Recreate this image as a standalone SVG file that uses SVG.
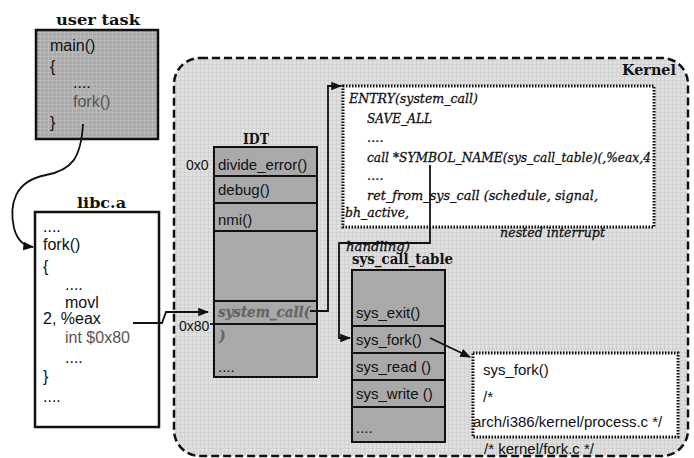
<svg xmlns="http://www.w3.org/2000/svg" width="694" height="458" viewBox="0 0 694 458">
  <style>
    .title { font-family: "DejaVu Serif", "Liberation Serif", serif; font-weight: bold; font-size: 15px; fill: #111; }
    .code { font-family: "Liberation Sans", Arial, sans-serif; font-size: 15px; fill: #111; }
    .big { font-size: 16px; }
    .addr { font-size: 14px; }
    .gray { fill: #555; }
    .ital { font-family: "DejaVu Serif", "Liberation Serif", serif; font-style: italic; font-size: 13px; fill: #111; stroke: #111; stroke-width: 0.3; }
    .sc { fill: #666; stroke: #666; font-weight: bold; font-size: 14px; }
    .box { stroke: #111; stroke-width: 2.5; }
    .cell { fill: #a9a9a9; stroke: #111; stroke-width: 2; }
    .dotted { fill: #fff; stroke: #111; stroke-width: 3; stroke-dasharray: 1.5 1.5; }
    .wire { fill: none; stroke: #111; stroke-width: 1.8; }
  </style>
  <defs>
    <pattern id="gridLight" width="4" height="4" patternUnits="userSpaceOnUse">
      <rect width="4" height="4" fill="#e0e0e0"/>
      <path d="M0 0.5H4M0.5 0V4" stroke="#cfcfcf" stroke-width="0.8"/>
    </pattern>
    <pattern id="gridDark" width="4" height="4" patternUnits="userSpaceOnUse">
      <rect width="4" height="4" fill="#aaaaaa"/>
      <path d="M0 0.5H4M0.5 0V4" stroke="#bdbdbd" stroke-width="0.8"/>
    </pattern>
    <marker id="arrow" viewBox="0 0 10 10" refX="9" refY="5" markerWidth="6" markerHeight="6" orient="auto">
      <path d="M0 1L10 5L0 9Z" fill="#111"/>
    </marker>
    <clipPath id="entryClip">
      <rect x="343" y="86" width="311" height="141"/>
    </clipPath>
  </defs>

  <rect width="694" height="458" fill="#fff"/>

  <!-- kernel space -->
  <g id="kernel">
    <rect x="174" y="58" width="514" height="398" rx="26" fill="url(#gridLight)" stroke="#111" stroke-width="2.5" stroke-dasharray="8 4"/>
    <text class="title" x="622" y="75" textLength="54" lengthAdjust="spacingAndGlyphs">Kernel</text>
  </g>

  <!-- user task -->
  <g id="user-task">
    <text class="title" x="56" y="25" textLength="84" lengthAdjust="spacingAndGlyphs">user task</text>
    <rect class="box" x="36" y="30" width="122" height="109" fill="url(#gridDark)"/>
    <text class="code big" x="50" y="51">main()</text>
    <text class="code big" x="50" y="72">{</text>
    <text class="code big" x="73" y="88">....</text>
    <text class="code big gray" x="73" y="107">fork()</text>
    <text class="code big" x="50" y="128">}</text>
  </g>

  <!-- libc.a -->
  <g id="libc">
    <text class="title" x="77" y="208" textLength="49" lengthAdjust="spacingAndGlyphs">libc.a</text>
    <rect class="box" x="35" y="212" width="124" height="215" fill="#fff"/>
    <text class="code big" x="43" y="232">....</text>
    <text class="code big" x="43" y="250">fork()</text>
    <text class="code big" x="43" y="272">{</text>
    <text class="code big" x="65" y="290">....</text>
    <text class="code big" x="65" y="308">movl</text>
    <text class="code big" x="43" y="324">2, %eax</text>
    <text class="code big gray" x="65" y="343">int $0x80</text>
    <text class="code big" x="65" y="363">....</text>
    <text class="code big" x="43" y="382">}</text>
    <text class="code big" x="43" y="402">....</text>
  </g>

  <!-- interrupt descriptor table -->
  <g id="idt">
    <text class="title" x="243" y="144" textLength="26" lengthAdjust="spacingAndGlyphs">IDT</text>
    <rect class="cell" x="214" y="147" width="103" height="29" fill="#9e9e9e"/>
    <rect class="cell" x="214" y="176" width="103" height="27"/>
    <rect class="cell" x="214" y="203" width="103" height="28"/>
    <rect class="cell" x="214" y="231" width="103" height="70"/>
    <rect class="cell" x="214" y="301" width="103" height="23" fill="#b3b3b3"/>
    <rect class="cell" x="214" y="324" width="103" height="53"/>
    <text class="code" x="218" y="170">divide_error()</text>
    <text class="code" x="218" y="195">debug()</text>
    <text class="code" x="218" y="225">nmi()</text>
    <text class="ital sc" x="218" y="317" textLength="92" lengthAdjust="spacingAndGlyphs">system_call(</text>
    <text class="ital sc" x="219" y="341" font-weight="normal">)</text>
    <text class="code" x="218" y="372">....</text>
    <text class="code addr" x="186" y="170">0x0</text>
    <text class="code addr" x="179" y="331">0x80</text>
  </g>

  <!-- system_call entry code -->
  <g id="entry">
    <rect class="dotted" x="343" y="86" width="311" height="141"/>
    <g clip-path="url(#entryClip)">
      <text class="ital" x="349" y="103" textLength="129" lengthAdjust="spacingAndGlyphs">ENTRY(system_call)</text>
      <text class="ital" x="367" y="123" textLength="65" lengthAdjust="spacingAndGlyphs">SAVE_ALL</text>
      <text class="ital" x="367" y="142">....</text>
      <text class="ital" x="367" y="162" textLength="284" lengthAdjust="spacingAndGlyphs">call *SYMBOL_NAME(sys_call_table)(,%eax,4</text>
      <text class="ital" x="367" y="180">....</text>
      <text class="ital" x="367" y="200" textLength="231" lengthAdjust="spacingAndGlyphs">ret_from_sys_call (schedule, signal,</text>
      <text class="ital" x="345" y="217" textLength="64" lengthAdjust="spacingAndGlyphs">bh_active,</text>
    </g>
    <text class="ital" x="500" y="237" textLength="105" lengthAdjust="spacingAndGlyphs">nested interrupt</text>
    <text class="ital" x="346" y="251" textLength="64" lengthAdjust="spacingAndGlyphs">handling)</text>
  </g>

  <!-- system call table -->
  <g id="sys-call-table">
    <rect class="cell" x="352" y="270" width="93" height="56"/>
    <rect class="cell" x="352" y="326" width="93" height="27" fill="#b0b0b0"/>
    <rect class="cell" x="352" y="353" width="93" height="27"/>
    <rect class="cell" x="352" y="380" width="93" height="27"/>
    <rect class="cell" x="352" y="407" width="93" height="35"/>
    <text class="title" x="352" y="264" textLength="101" lengthAdjust="spacingAndGlyphs">sys_call_table</text>
    <text class="code" x="356" y="318">sys_exit()</text>
    <text class="code" x="356" y="345">sys_fork()</text>
    <text class="code" x="356" y="372">sys_read ()</text>
    <text class="code" x="356" y="399">sys_write ()</text>
    <text class="code" x="356" y="433">....</text>
  </g>

  <!-- sys_fork implementation -->
  <g id="sys-fork">
    <rect class="dotted" x="473" y="353" width="205" height="84"/>
    <text class="code" x="483" y="375">sys_fork()</text>
    <text class="code" x="483" y="402">/*</text>
    <text class="code" x="473" y="427">arch/i386/kernel/process.c */</text>
    <text class="code" x="484" y="454">/* kernel/fork.c */</text>
  </g>

  <!-- connectors -->
  <g id="connectors">
    <path class="wire" d="M83 124C81 158 72 170 46 175C14 181 9 205 14 228C17 240 24 246 33 247" marker-end="url(#arrow)"/>
    <path class="wire" d="M133 323H162L166 312H208" marker-end="url(#arrow)"/>
    <path class="wire" d="M210 324H214"/>
    <path class="wire" d="M310 311H328V86H341" marker-end="url(#arrow)"/>
    <path class="wire" d="M430 165V243H339V338H350" marker-end="url(#arrow)"/>
    <path class="wire" d="M430 338L470 357" marker-end="url(#arrow)"/>
  </g>
</svg>
